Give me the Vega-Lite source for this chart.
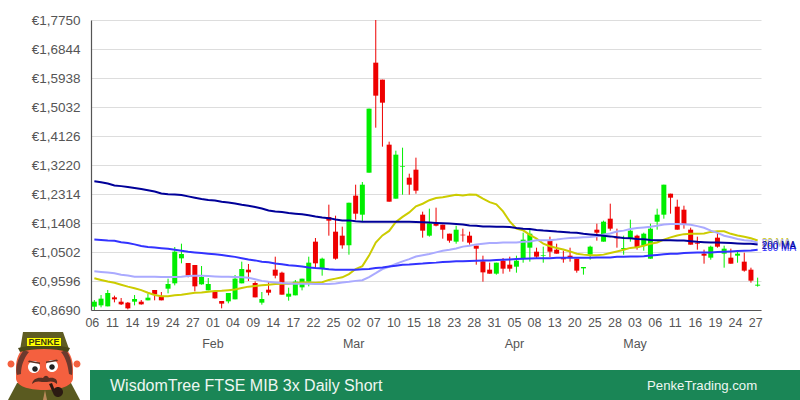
{
  "$schema": "https://vega.github.io/schema/vega-lite/v6.json",
  "background": "white",
  "padding": {"left": 0, "top": 13, "right": 0, "bottom": 0},
  "bounds": "flush",
  "spacing": 18,
  "config": {"view": {"stroke": null}, "font": "Liberation Sans"},
  "datasets": {
    "prices": [
      {"date":"2022-01-06","open":0.8794,"high":0.9002,"low":0.869,"close":0.895,"ma20":0.968,"ma50":0.990,"ma100":1.089,"ma200":1.271},
      {"date":"2022-01-07","open":0.8835,"high":0.9158,"low":0.8773,"close":0.9044,"ma20":0.963,"ma50":0.988,"ma100":1.088,"ma200":1.268},
      {"date":"2022-01-10","open":0.8804,"high":0.9315,"low":0.8804,"close":0.9221,"ma20":0.958,"ma50":0.986,"ma100":1.086,"ma200":1.264},
      {"date":"2022-01-11","open":0.9085,"high":0.9138,"low":0.8929,"close":0.9023,"ma20":0.954,"ma50":0.984,"ma100":1.085,"ma200":1.258},
      {"date":"2022-01-12","open":0.895,"high":0.9065,"low":0.8846,"close":0.8867,"ma20":0.948,"ma50":0.979,"ma100":1.081,"ma200":1.256},
      {"date":"2022-01-13","open":0.8919,"high":0.894,"low":0.871,"close":0.8742,"ma20":0.942,"ma50":0.977,"ma100":1.078,"ma200":1.253},
      {"date":"2022-01-14","open":0.895,"high":0.9158,"low":0.8835,"close":0.9033,"ma20":0.937,"ma50":0.973,"ma100":1.074,"ma200":1.250},
      {"date":"2022-01-17","open":0.895,"high":0.9002,"low":0.8856,"close":0.8867,"ma20":0.931,"ma50":0.973,"ma100":1.069,"ma200":1.247},
      {"date":"2022-01-18","open":0.8992,"high":0.92,"low":0.8992,"close":0.9075,"ma20":0.923,"ma50":0.973,"ma100":1.066,"ma200":1.243},
      {"date":"2022-01-19","open":0.9315,"high":0.9315,"low":0.8992,"close":0.9179,"ma20":0.916,"ma50":0.973,"ma100":1.064,"ma200":1.239},
      {"date":"2022-01-20","open":0.9106,"high":0.9252,"low":0.8992,"close":0.8992,"ma20":0.912,"ma50":0.972,"ma100":1.062,"ma200":1.233},
      {"date":"2022-01-21","open":0.9356,"high":0.9669,"low":0.921,"close":0.9502,"ma20":0.912,"ma50":0.972,"ma100":1.060,"ma200":1.231},
      {"date":"2022-01-24","open":0.9523,"high":1.0658,"low":0.946,"close":1.0512,"ma20":0.915,"ma50":0.972,"ma100":1.057,"ma200":1.230},
      {"date":"2022-01-25","open":1.0304,"high":1.0762,"low":1.0148,"close":1.0439,"ma20":0.917,"ma50":0.973,"ma100":1.054,"ma200":1.228},
      {"date":"2022-01-26","open":1.0158,"high":1.0158,"low":0.971,"close":0.9762,"ma20":0.920,"ma50":0.975,"ma100":1.051,"ma200":1.224},
      {"date":"2022-01-27","open":1.0096,"high":1.0096,"low":0.9273,"close":0.9429,"ma20":0.923,"ma50":0.976,"ma100":1.049,"ma200":1.220},
      {"date":"2022-01-28","open":0.9492,"high":1.0064,"low":0.9481,"close":0.9721,"ma20":0.924,"ma50":0.976,"ma100":1.047,"ma200":1.216},
      {"date":"2022-01-31","open":0.9304,"high":0.9689,"low":0.9304,"close":0.9502,"ma20":0.926,"ma50":0.975,"ma100":1.045,"ma200":1.213},
      {"date":"2022-02-01","open":0.9273,"high":0.9273,"low":0.9044,"close":0.9054,"ma20":0.928,"ma50":0.974,"ma100":1.043,"ma200":1.211},
      {"date":"2022-02-02","open":0.8971,"high":0.8971,"low":0.8742,"close":0.8888,"ma20":0.929,"ma50":0.973,"ma100":1.041,"ma200":1.207},
      {"date":"2022-02-03","open":0.896,"high":0.9221,"low":0.8898,"close":0.9221,"ma20":0.931,"ma50":0.973,"ma100":1.038,"ma200":1.205},
      {"date":"2022-02-04","open":0.9023,"high":0.9783,"low":0.9023,"close":0.9669,"ma20":0.933,"ma50":0.972,"ma100":1.035,"ma200":1.202},
      {"date":"2022-02-07","open":0.9523,"high":1.02,"low":0.9523,"close":0.9971,"ma20":0.938,"ma50":0.971,"ma100":1.031,"ma200":1.198},
      {"date":"2022-02-08","open":0.995,"high":1.0127,"low":0.9596,"close":0.9866,"ma20":0.942,"ma50":0.970,"ma100":1.027,"ma200":1.195},
      {"date":"2022-02-09","open":0.9533,"high":0.9585,"low":0.9085,"close":0.9085,"ma20":0.944,"ma50":0.965,"ma100":1.024,"ma200":1.191},
      {"date":"2022-02-10","open":0.8919,"high":0.9252,"low":0.8856,"close":0.9033,"ma20":0.946,"ma50":0.960,"ma100":1.020,"ma200":1.186},
      {"date":"2022-02-11","open":0.9325,"high":0.9585,"low":0.9148,"close":0.9231,"ma20":0.948,"ma50":0.957,"ma100":1.018,"ma200":1.180},
      {"date":"2022-02-14","open":0.995,"high":1.0356,"low":0.9679,"close":0.9762,"ma20":0.950,"ma50":0.955,"ma100":1.014,"ma200":1.177},
      {"date":"2022-02-15","open":0.9856,"high":0.9887,"low":0.9169,"close":0.9169,"ma20":0.951,"ma50":0.953,"ma100":1.012,"ma200":1.175},
      {"date":"2022-02-16","open":0.9106,"high":0.9387,"low":0.8981,"close":0.92,"ma20":0.951,"ma50":0.952,"ma100":1.009,"ma200":1.172},
      {"date":"2022-02-17","open":0.9148,"high":0.9627,"low":0.9148,"close":0.9575,"ma20":0.953,"ma50":0.951,"ma100":1.007,"ma200":1.170},
      {"date":"2022-02-18","open":0.9398,"high":0.9669,"low":0.9304,"close":0.9669,"ma20":0.955,"ma50":0.951,"ma100":1.005,"ma200":1.168},
      {"date":"2022-02-21","open":0.9575,"high":1.0356,"low":0.9429,"close":1.0169,"ma20":0.955,"ma50":0.951,"ma100":1.002,"ma200":1.165},
      {"date":"2022-02-22","open":1.0825,"high":1.0939,"low":1.0002,"close":1.0148,"ma20":0.954,"ma50":0.950,"ma100":1.000,"ma200":1.161},
      {"date":"2022-02-23","open":0.9991,"high":1.0325,"low":0.9762,"close":1.0293,"ma20":0.956,"ma50":0.950,"ma100":0.999,"ma200":1.158},
      {"date":"2022-02-24","open":1.1595,"high":1.1981,"low":1.1012,"close":1.1481,"ma20":0.963,"ma50":0.950,"ma100":0.996,"ma200":1.156},
      {"date":"2022-02-25","open":1.1137,"high":1.1637,"low":1.0262,"close":1.0293,"ma20":0.967,"ma50":0.952,"ma100":0.995,"ma200":1.152},
      {"date":"2022-02-28","open":1.1012,"high":1.1293,"low":1.0606,"close":1.071,"ma20":0.971,"ma50":0.955,"ma100":0.995,"ma200":1.149},
      {"date":"2022-03-01","open":1.071,"high":1.2043,"low":1.0418,"close":1.2043,"ma20":0.981,"ma50":0.957,"ma100":0.995,"ma200":1.149},
      {"date":"2022-03-02","open":1.2262,"high":1.2605,"low":1.1512,"close":1.1699,"ma20":0.997,"ma50":0.960,"ma100":0.995,"ma200":1.146},
      {"date":"2022-03-03","open":1.1668,"high":1.2689,"low":1.146,"close":1.2605,"ma20":1.006,"ma50":0.962,"ma100":0.996,"ma200":1.145},
      {"date":"2022-03-04","open":1.298,"high":1.498,"low":1.298,"close":1.498,"ma20":1.039,"ma50":0.972,"ma100":0.997,"ma200":1.145},
      {"date":"2022-03-07","open":1.6417,"high":1.775,"low":1.4386,"close":1.5386,"ma20":1.080,"ma50":0.984,"ma100":1.000,"ma200":1.145},
      {"date":"2022-03-08","open":1.5886,"high":1.5886,"low":1.3793,"close":1.5167,"ma20":1.102,"ma50":0.997,"ma100":1.002,"ma200":1.145},
      {"date":"2022-03-09","open":1.3855,"high":1.3949,"low":1.2074,"close":1.2074,"ma20":1.116,"ma50":1.004,"ma100":1.005,"ma200":1.145},
      {"date":"2022-03-10","open":1.2168,"high":1.3668,"low":1.2168,"close":1.3543,"ma20":1.144,"ma50":1.013,"ma100":1.007,"ma200":1.145},
      {"date":"2022-03-11","open":1.3168,"high":1.3761,"low":1.2293,"close":1.3189,"ma20":1.160,"ma50":1.021,"ma100":1.010,"ma200":1.145},
      {"date":"2022-03-14","open":1.2824,"high":1.2949,"low":1.2293,"close":1.2605,"ma20":1.174,"ma50":1.028,"ma100":1.011,"ma200":1.145},
      {"date":"2022-03-15","open":1.3074,"high":1.3449,"low":1.2324,"close":1.2418,"ma20":1.193,"ma50":1.036,"ma100":1.013,"ma200":1.144},
      {"date":"2022-03-16","open":1.1668,"high":1.1762,"low":1.095,"close":1.1168,"ma20":1.201,"ma50":1.040,"ma100":1.014,"ma200":1.143},
      {"date":"2022-03-17","open":1.1012,"high":1.1856,"low":1.0981,"close":1.1397,"ma20":1.212,"ma50":1.044,"ma100":1.016,"ma200":1.142},
      {"date":"2022-03-18","open":1.1397,"high":1.1887,"low":1.1304,"close":1.1324,"ma20":1.219,"ma50":1.049,"ma100":1.017,"ma200":1.141},
      {"date":"2022-03-21","open":1.1356,"high":1.1356,"low":1.0918,"close":1.1199,"ma20":1.221,"ma50":1.054,"ma100":1.019,"ma200":1.140},
      {"date":"2022-03-22","open":1.1074,"high":1.1074,"low":1.0793,"close":1.0856,"ma20":1.225,"ma50":1.057,"ma100":1.020,"ma200":1.139},
      {"date":"2022-03-23","open":1.0825,"high":1.1324,"low":1.0762,"close":1.1199,"ma20":1.229,"ma50":1.061,"ma100":1.021,"ma200":1.138},
      {"date":"2022-03-24","open":1.1043,"high":1.1231,"low":1.0825,"close":1.1022,"ma20":1.227,"ma50":1.067,"ma100":1.021,"ma200":1.136},
      {"date":"2022-03-25","open":1.1012,"high":1.1137,"low":1.0731,"close":1.0793,"ma20":1.230,"ma50":1.070,"ma100":1.022,"ma200":1.133},
      {"date":"2022-03-28","open":1.07,"high":1.07,"low":1.0106,"close":1.0606,"ma20":1.229,"ma50":1.074,"ma100":1.023,"ma200":1.132},
      {"date":"2022-03-29","open":1.021,"high":1.0387,"low":0.9575,"close":0.9866,"ma20":1.217,"ma50":1.076,"ma100":1.024,"ma200":1.130},
      {"date":"2022-03-30","open":0.995,"high":1.0168,"low":0.9825,"close":0.9825,"ma20":1.206,"ma50":1.078,"ma100":1.024,"ma200":1.130},
      {"date":"2022-03-31","open":0.9825,"high":1.0168,"low":0.9794,"close":1.0168,"ma20":1.199,"ma50":1.078,"ma100":1.025,"ma200":1.129},
      {"date":"2022-04-01","open":1.0231,"high":1.0314,"low":0.9825,"close":0.9981,"ma20":1.177,"ma50":1.080,"ma100":1.026,"ma200":1.129},
      {"date":"2022-04-04","open":1.0106,"high":1.0356,"low":0.9887,"close":0.9981,"ma20":1.146,"ma50":1.080,"ma100":1.027,"ma200":1.128},
      {"date":"2022-04-05","open":1.0043,"high":1.0387,"low":0.9856,"close":1.0231,"ma20":1.123,"ma50":1.080,"ma100":1.028,"ma200":1.125},
      {"date":"2022-04-06","open":1.0293,"high":1.1106,"low":1.0168,"close":1.0887,"ma20":1.118,"ma50":1.082,"ma100":1.029,"ma200":1.123},
      {"date":"2022-04-07","open":1.0637,"high":1.1231,"low":1.02,"close":1.1074,"ma20":1.104,"ma50":1.083,"ma100":1.030,"ma200":1.122},
      {"date":"2022-04-08","open":1.0512,"high":1.0637,"low":1.0293,"close":1.0356,"ma20":1.092,"ma50":1.087,"ma100":1.031,"ma200":1.119},
      {"date":"2022-04-11","open":1.0387,"high":1.0668,"low":1.0168,"close":1.0408,"ma20":1.076,"ma50":1.087,"ma100":1.031,"ma200":1.117},
      {"date":"2022-04-12","open":1.0856,"high":1.0981,"low":1.0346,"close":1.0512,"ma20":1.068,"ma50":1.087,"ma100":1.031,"ma200":1.116},
      {"date":"2022-04-13","open":1.0575,"high":1.0762,"low":1.045,"close":1.045,"ma20":1.063,"ma50":1.089,"ma100":1.032,"ma200":1.114},
      {"date":"2022-04-14","open":1.0325,"high":1.0543,"low":1.0168,"close":1.0273,"ma20":1.058,"ma50":1.092,"ma100":1.032,"ma200":1.113},
      {"date":"2022-04-19","open":1.0387,"high":1.0637,"low":1.02,"close":1.0335,"ma20":1.052,"ma50":1.094,"ma100":1.032,"ma200":1.111},
      {"date":"2022-04-20","open":1.0293,"high":1.0293,"low":0.9856,"close":0.9919,"ma20":1.045,"ma50":1.095,"ma100":1.032,"ma200":1.110},
      {"date":"2022-04-21","open":0.9991,"high":1.0033,"low":0.9794,"close":1.0033,"ma20":1.042,"ma50":1.096,"ma100":1.032,"ma200":1.107},
      {"date":"2022-04-22","open":1.0418,"high":1.07,"low":1.0262,"close":1.0668,"ma20":1.040,"ma50":1.097,"ma100":1.032,"ma200":1.105},
      {"date":"2022-04-25","open":1.1199,"high":1.1387,"low":1.0856,"close":1.1106,"ma20":1.040,"ma50":1.099,"ma100":1.033,"ma200":1.103},
      {"date":"2022-04-26","open":1.0825,"high":1.1481,"low":1.0825,"close":1.1449,"ma20":1.042,"ma50":1.105,"ma100":1.033,"ma200":1.101},
      {"date":"2022-04-27","open":1.1543,"high":1.2012,"low":1.1168,"close":1.1231,"ma20":1.047,"ma50":1.108,"ma100":1.033,"ma200":1.099},
      {"date":"2022-04-28","open":1.0981,"high":1.1231,"low":1.0637,"close":1.0929,"ma20":1.052,"ma50":1.114,"ma100":1.035,"ma200":1.096},
      {"date":"2022-04-29","open":1.0596,"high":1.1012,"low":1.0418,"close":1.0627,"ma20":1.057,"ma50":1.117,"ma100":1.035,"ma200":1.094},
      {"date":"2022-05-02","open":1.0918,"high":1.1512,"low":1.0825,"close":1.1168,"ma20":1.063,"ma50":1.122,"ma100":1.036,"ma200":1.093},
      {"date":"2022-05-03","open":1.1012,"high":1.1043,"low":1.0575,"close":1.0637,"ma20":1.065,"ma50":1.125,"ma100":1.036,"ma200":1.091},
      {"date":"2022-05-04","open":1.07,"high":1.1106,"low":1.0543,"close":1.1074,"ma20":1.070,"ma50":1.127,"ma100":1.037,"ma200":1.090},
      {"date":"2022-05-05","open":1.0293,"high":1.1387,"low":1.0293,"close":1.1231,"ma20":1.076,"ma50":1.129,"ma100":1.039,"ma200":1.088},
      {"date":"2022-05-06","open":1.1449,"high":1.1856,"low":1.1199,"close":1.1668,"ma20":1.080,"ma50":1.132,"ma100":1.041,"ma200":1.087},
      {"date":"2022-05-09","open":1.1668,"high":1.2605,"low":1.1543,"close":1.2605,"ma20":1.089,"ma50":1.136,"ma100":1.043,"ma200":1.087},
      {"date":"2022-05-10","open":1.2324,"high":1.2324,"low":1.1699,"close":1.2199,"ma20":1.096,"ma50":1.138,"ma100":1.045,"ma200":1.087},
      {"date":"2022-05-11","open":1.1918,"high":1.2137,"low":1.1199,"close":1.1199,"ma20":1.102,"ma50":1.138,"ma100":1.045,"ma200":1.086},
      {"date":"2022-05-12","open":1.1824,"high":1.1949,"low":1.1231,"close":1.1356,"ma20":1.106,"ma50":1.137,"ma100":1.047,"ma200":1.086},
      {"date":"2022-05-13","open":1.1199,"high":1.1262,"low":1.0731,"close":1.0731,"ma20":1.107,"ma50":1.135,"ma100":1.048,"ma200":1.084},
      {"date":"2022-05-16","open":1.0793,"high":1.0981,"low":1.0575,"close":1.0762,"ma20":1.107,"ma50":1.131,"ma100":1.049,"ma200":1.082},
      {"date":"2022-05-17","open":1.045,"high":1.0575,"low":1.0137,"close":1.0387,"ma20":1.108,"ma50":1.126,"ma100":1.049,"ma200":1.081},
      {"date":"2022-05-18","open":1.0325,"high":1.07,"low":1.0262,"close":1.0668,"ma20":1.113,"ma50":1.117,"ma100":1.049,"ma200":1.080},
      {"date":"2022-05-19","open":1.095,"high":1.1106,"low":1.0637,"close":1.0668,"ma20":1.115,"ma50":1.110,"ma100":1.050,"ma200":1.080},
      {"date":"2022-05-20","open":1.045,"high":1.07,"low":1.0012,"close":1.0606,"ma20":1.115,"ma50":1.101,"ma100":1.051,"ma200":1.079},
      {"date":"2022-05-23","open":1.0325,"high":1.0606,"low":1.0137,"close":1.0137,"ma20":1.107,"ma50":1.096,"ma100":1.052,"ma200":1.078},
      {"date":"2022-05-24","open":1.0387,"high":1.0512,"low":1.0168,"close":1.045,"ma20":1.102,"ma50":1.091,"ma100":1.053,"ma200":1.077},
      {"date":"2022-05-25","open":1.02,"high":1.0481,"low":0.9887,"close":0.9919,"ma20":1.098,"ma50":1.087,"ma100":1.054,"ma200":1.076},
      {"date":"2022-05-26","open":0.995,"high":1.0012,"low":0.9544,"close":0.9606,"ma20":1.093,"ma50":1.085,"ma100":1.055,"ma200":1.076},
      {"date":"2022-05-27","open":0.945,"high":0.97,"low":0.9419,"close":0.9481,"ma20":1.086,"ma50":1.079,"ma100":1.057,"ma200":1.074}
    ],
    "maLabels": [
      {"date":"2022-05-27","label":"20 MA","level":1.0793},
      {"date":"2022-05-27","label":"50 MA","level":1.0762},
      {"date":"2022-05-27","label":"100 MA","level":1.0637},
      {"date":"2022-05-27","label":"200 MA","level":1.07}
    ],
    "banner": [
      {"title":"WisdomTree FTSE MIB 3x Daily Short","site":"PenkeTrading.com","badge":"PENKE"}
    ]
  },
  "vconcat": [
    {
      "width": 670,
      "height": 290,
      "data": {"name": "prices"},
      "encoding": {
        "x": {
          "field": "date",
          "type": "ordinal",
          "title": null,
          "scale": {"type": "band", "paddingInner": 0, "paddingOuter": 0},
          "axis": {
            "values": ["2022-01-06","2022-01-11","2022-01-14","2022-01-19","2022-01-24","2022-01-27","2022-02-01","2022-02-04","2022-02-09","2022-02-14","2022-02-17","2022-02-22","2022-02-25","2022-03-02","2022-03-07","2022-03-10","2022-03-15","2022-03-18","2022-03-23","2022-03-28","2022-03-31","2022-04-05","2022-04-08","2022-04-13","2022-04-20","2022-04-25","2022-04-28","2022-05-03","2022-05-06","2022-05-11","2022-05-16","2022-05-19","2022-05-24","2022-05-27"],
            "labelExpr": "datum.value === '2022-02-01' ? ['01','Feb'] : datum.value === '2022-03-02' ? ['02','Mar'] : datum.value === '2022-04-05' ? ['05','Apr'] : datum.value === '2022-05-03' ? ['03','May'] : slice(datum.value, 8)",
            "labelAngle": 0,
            "labelFontSize": 12.5,
            "labelColor": "#555555",
            "labelPadding": 6,
            "labelOffset": -2,
            "labelLineHeight": 21,
            "labelOverlap": false,
            "labelBound": false,
            "labelFlush": false,
            "ticks": false,
            "grid": false,
            "domainColor": "#555555",
            "domainWidth": 1.2
          }
        }
      },
      "layer": [
        {
          "mark": {"type": "rule", "strokeWidth": 1},
          "encoding": {
            "y": {
              "field": "high",
              "type": "quantitative",
              "title": null,
              "scale": {"domain": [0.869, 1.775]},
              "axis": {
                "values": [0.869,0.9596,1.0502,1.1408,1.2314,1.322,1.4126,1.5032,1.5938,1.6844,1.775],
                "tickCount": 11,
                "labelExpr": "'€' + replace(format(datum.value, '.4f'), '.', ',')",
                "labelFontSize": 13.5,
                "labelColor": "#555555",
                "labelPadding": 11,
                "labelOverlap": false,
                "labelBound": false,
                "minExtent": 91,
                "ticks": false,
                "gridColor": "#dddddd",
                "gridWidth": 1,
                "domainColor": "#555555",
                "domainWidth": 1.2
              }
            },
            "y2": {"field": "low"},
            "color": {"condition": {"test": "datum.close >= datum.open", "value": "#00ee00"}, "value": "#ee0000"}
          }
        },
        {
          "mark": {"type": "bar", "size": 5},
          "encoding": {
            "y": {"field": "open", "type": "quantitative", "scale": {"domain": [0.869, 1.775]}},
            "y2": {"field": "close"},
            "color": {"condition": {"test": "datum.close >= datum.open", "value": "#00ee00"}, "value": "#ee0000"}
          }
        },
        {
          "mark": {"type": "line", "color": "#cccc00", "strokeWidth": 2},
          "encoding": {"y": {"field": "ma20", "type": "quantitative", "scale": {"domain": [0.869, 1.775]}}}
        },
        {
          "mark": {"type": "line", "color": "#aaaaff", "strokeWidth": 2},
          "encoding": {"y": {"field": "ma50", "type": "quantitative", "scale": {"domain": [0.869, 1.775]}}}
        },
        {
          "mark": {"type": "line", "color": "#3333ff", "strokeWidth": 2},
          "encoding": {"y": {"field": "ma100", "type": "quantitative", "scale": {"domain": [0.869, 1.775]}}}
        },
        {
          "mark": {"type": "line", "color": "#000099", "strokeWidth": 2},
          "encoding": {"y": {"field": "ma200", "type": "quantitative", "scale": {"domain": [0.869, 1.775]}}}
        },
        {
          "data": {"name": "maLabels"},
          "mark": {"type": "text", "align": "left", "baseline": "middle", "dx": 4, "fontSize": 10},
          "encoding": {
            "y": {"field": "level", "type": "quantitative", "scale": {"domain": [0.869, 1.775]}},
            "text": {"field": "label"},
            "color": {
              "field": "label",
              "type": "nominal",
              "legend": null,
              "scale": {"domain": ["20 MA", "50 MA", "100 MA", "200 MA"], "range": ["#cccc00", "#aaaaff", "#3333ff", "#000099"]}
            }
          }
        }
      ]
    },
    {
      "width": 709,
      "height": 72,
      "data": {"name": "banner"},
      "encoding": {
        "x": {"datum": 0, "type": "quantitative", "scale": {"domain": [91, 800]}, "axis": null},
        "y": {"datum": 0, "type": "quantitative", "scale": {"domain": [0, 72], "reverse": true}, "axis": null}
      },
      "layer": [
        {
          "mark": {"type": "rect", "color": "#1a8656"},
          "encoding": {
            "x": {"datum": 90, "type": "quantitative", "scale": {"domain": [91, 800]}, "axis": null},
            "x2": {"datum": 800},
            "y": {"datum": 42, "type": "quantitative", "scale": {"domain": [0, 72], "reverse": true}, "axis": null},
            "y2": {"datum": 72}
          }
        },
        {
          "mark": {"type": "text", "align": "left", "baseline": "middle", "fontSize": 16, "color": "#eef7f2"},
          "encoding": {
            "x": {"datum": 110, "type": "quantitative", "scale": {"domain": [91, 800]}, "axis": null},
            "y": {"datum": 58, "type": "quantitative", "scale": {"domain": [0, 72], "reverse": true}, "axis": null},
            "text": {"field": "title"}
          }
        },
        {
          "mark": {"type": "text", "align": "left", "baseline": "middle", "fontSize": 13.2, "color": "#eef7f2"},
          "encoding": {
            "x": {"datum": 647, "type": "quantitative", "scale": {"domain": [91, 800]}, "axis": null},
            "y": {"datum": 58, "type": "quantitative", "scale": {"domain": [0, 72], "reverse": true}, "axis": null},
            "text": {"field": "site"}
          }
        },
        {"mark": {"type": "point", "filled": true, "opacity": 1, "size": 4, "color": "#5a5a20", "shape": "M8,72L17,55L71,55L80,72Z"}},
        {"mark": {"type": "point", "filled": true, "opacity": 1, "size": 4, "color": "#b98a5a", "shape": "M43,72L45,62L47,72Z"}},
        {"mark": {"type": "point", "filled": true, "opacity": 1, "size": 4, "color": "#f4603f", "shape": "M7.5,36a3.5,3.5 0 1,0 7,0a3.5,3.5 0 1,0 -7,0ZM73.5,36a3.5,3.5 0 1,0 7,0a3.5,3.5 0 1,0 -7,0ZM16,40C16,20 30,14 44,14C58,14 73,20 73,40L73,50C73,58 60,62 44,62C28,62 16,58 16,50Z"}},
        {"mark": {"type": "point", "filled": true, "opacity": 1, "size": 4, "color": "#6b3a2e", "shape": "M24,22C17,30 15,42 17,47L21,46C21,38 24,30 29,24ZM66,22C72,30 73,42 72,47L69,46C68,38 66,30 61,24Z"}},
        {"mark": {"type": "point", "filled": true, "opacity": 1, "size": 4, "color": "#5f5c22", "shape": "M23,4L63,4L69,21C55,17 33,17 20,22Z"}},
        {"mark": {"type": "point", "filled": true, "opacity": 1, "size": 4, "color": "#4a4818", "shape": "M18,20C33,16 55,16 70,20L68,24C55,20 33,20 20,24Z"}},
        {"mark": {"type": "point", "filled": true, "opacity": 1, "size": 4, "color": "#ffff00", "shape": "M27,10L61,10L61,18L27,18Z"}},
        {"mark": {"type": "point", "filled": true, "opacity": 1, "size": 4, "color": "#ffffff", "shape": "M28,39a6,6 0 1,0 12,0a6,6 0 1,0 -12,0ZM46,38a6,6 0 1,0 12,0a6,6 0 1,0 -12,0Z"}},
        {"mark": {"type": "point", "filled": true, "opacity": 1, "size": 4, "color": "#222222", "shape": "M32.2,41a2.8,2.8 0 1,0 5.6,0a2.8,2.8 0 1,0 -5.6,0ZM49.2,39a2.8,2.8 0 1,0 5.6,0a2.8,2.8 0 1,0 -5.6,0Z"}},
        {"mark": {"type": "point", "filled": true, "opacity": 1, "size": 4, "color": "#5a2f22", "shape": "M28,34L40,36L40,34.5L29,32.5ZM46,35L58,33L57,31.5L46,33.5ZM32,56C33,51 37,49 43,50C45,47 47,47 49,50C54,49 58,51 57,56C54,53 50,53 47,54L42,54C39,53 35,53 32,56Z"}},
        {"mark": {"type": "point", "filled": true, "opacity": 1, "size": 4, "color": "#2b1a12", "shape": "M49,56L53,65L56,65L52,55ZM53,64a5,5 0 1,0 10,0a5,5 0 1,0 -10,0Z"}},
        {
          "mark": {"type": "text", "align": "center", "baseline": "middle", "fontSize": 9, "fontWeight": "bold", "color": "#3a3a10"},
          "encoding": {
            "x": {"datum": 44, "type": "quantitative", "scale": {"domain": [91, 800]}, "axis": null},
            "y": {"datum": 14.3, "type": "quantitative", "scale": {"domain": [0, 72], "reverse": true}, "axis": null},
            "text": {"field": "badge"}
          }
        }
      ]
    }
  ]
}
